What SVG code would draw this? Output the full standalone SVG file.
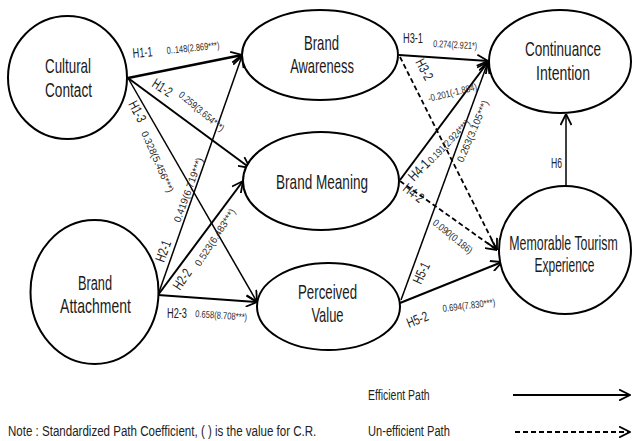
<svg xmlns="http://www.w3.org/2000/svg" width="632" height="441" viewBox="0 0 632 441">
<style>
  .node { fill: #fff; stroke: #000; stroke-width: 2; }
  .lbl { font-family: "Liberation Sans", Arial, sans-serif; font-size: 20px; fill: #1a1a1a; text-anchor: middle; }
  .h { font-family: "Liberation Sans", Arial, sans-serif; font-size: 14px; fill: #222; }
  .v { font-family: "Liberation Sans", Arial, sans-serif; font-size: 10px; fill: #2a2a2a; }
  .leg { font-family: "Liberation Sans", Arial, sans-serif; font-size: 15px; fill: #222; }
  .ar { fill: none; stroke: #000; stroke-width: 2; marker-end: url(#arr); }
  .thin { stroke-width: 1.5; }
  .da { fill: none; stroke: #000; stroke-width: 1.8; stroke-dasharray: 5 3; marker-end: url(#arr); }
</style>
<defs>
  <marker id="arr" viewBox="0 0 12 12" refX="11.5" refY="6" markerWidth="12" markerHeight="12" markerUnits="userSpaceOnUse" orient="auto">
    <path d="M0.5,0.5 L11.5,6 L0.5,11.5" fill="none" stroke="#000" stroke-width="1.8"/>
  </marker>
</defs>
<rect width="632" height="441" fill="#fff"/>

<g id="connectors">
  <line class="ar" x1="128" y1="78" x2="242" y2="55" style="stroke-width:2.4"/>
  <line class="ar" x1="128" y1="78" x2="250" y2="168"/>
  <line class="ar thin" x1="128" y1="78" x2="257" y2="302"/>
  <line class="ar thin" x1="158" y1="295" x2="242" y2="56"/>
  <line class="ar" x1="158" y1="295" x2="243" y2="181"/>
  <line class="ar" x1="158" y1="295" x2="257" y2="302"/>
  <line class="ar" x1="399" y1="55" x2="488" y2="61"/>
  <line class="da" x1="400" y1="57" x2="497" y2="250"/>
  <line class="ar" x1="400" y1="180" x2="488" y2="62"/>
  <line class="da" x1="400" y1="181" x2="497" y2="250"/>
  <line class="ar thin" x1="401" y1="300" x2="488" y2="62"/>
  <line class="ar" x1="400" y1="303" x2="502" y2="262"/>
  <line class="ar thin" x1="566" y1="187" x2="566" y2="114"/>
</g>

<g id="cultural-contact">
  <ellipse class="node" cx="67.5" cy="77.5" rx="59.5" ry="61.5"/>
  <text class="lbl" transform="translate(68,73) scale(0.668,1)">Cultural</text>
  <text class="lbl" transform="translate(68.5,97) scale(0.682,1)">Contact</text>
</g>
<g id="brand-attachment">
  <ellipse class="node" cx="94.5" cy="292" rx="64" ry="72"/>
  <text class="lbl" transform="translate(95,290) scale(0.64,1)">Brand</text>
  <text class="lbl" transform="translate(95.5,313) scale(0.70,1)">Attachment</text>
</g>
<g id="brand-awareness">
  <ellipse class="node" cx="320" cy="55" rx="78" ry="45"/>
  <text class="lbl" transform="translate(321.5,50) scale(0.656,1)">Brand</text>
  <text class="lbl" transform="translate(322,73) scale(0.647,1)">Awareness</text>
</g>
<g id="brand-meaning">
  <ellipse class="node" cx="321" cy="181" rx="78" ry="49"/>
  <text class="lbl" transform="translate(322,189) scale(0.678,1)">Brand Meaning</text>
</g>
<g id="perceived-value">
  <ellipse class="node" cx="328.5" cy="306.5" rx="71.5" ry="43.5"/>
  <text class="lbl" transform="translate(327.5,299) scale(0.664,1)">Perceived</text>
  <text class="lbl" transform="translate(327.5,322) scale(0.646,1)">Value</text>
</g>
<g id="continuance-intention">
  <ellipse class="node" cx="560" cy="61.5" rx="71" ry="51.5"/>
  <text class="lbl" transform="translate(563,56) scale(0.677,1)">Continuance</text>
  <text class="lbl" transform="translate(563,80) scale(0.704,1)">Intention</text>
</g>
<g id="memorable-tourism-experience">
  <ellipse class="node" cx="565" cy="250" rx="66" ry="64"/>
  <text class="lbl" transform="translate(563.5,250) scale(0.619,1)">Memorable Tourism</text>
  <text class="lbl" transform="translate(564.5,272) scale(0.6,1)">Experience</text>
</g>

<g id="path-labels">
  <text class="h" transform="translate(133,58) rotate(-5)" textLength="20" lengthAdjust="spacingAndGlyphs">H1-1</text>
  <text class="v" transform="translate(167,54) rotate(-6)" textLength="53" lengthAdjust="spacingAndGlyphs">0..148(2.869***)</text>
  <text class="h" transform="translate(151,86) rotate(33)" textLength="21" lengthAdjust="spacingAndGlyphs">H1-2</text>
  <text class="v" transform="translate(178,96) rotate(40)" textLength="56" lengthAdjust="spacingAndGlyphs">0.259(3.654***)</text>
  <text class="h" transform="translate(128,104) rotate(62)" textLength="22" lengthAdjust="spacingAndGlyphs">H1-3</text>
  <text class="v" transform="translate(141,133) rotate(66)" textLength="66" lengthAdjust="spacingAndGlyphs">0.328(5.456***)</text>
  <text class="h" transform="translate(164,263) rotate(-70)" textLength="22" lengthAdjust="spacingAndGlyphs">H2-1</text>
  <text class="v" transform="translate(180,223) rotate(-70)" textLength="68" lengthAdjust="spacingAndGlyphs">0.419(6.719***)</text>
  <text class="h" transform="translate(180,291) rotate(-56)" textLength="22" lengthAdjust="spacingAndGlyphs">H2-2</text>
  <text class="v" transform="translate(200,267) rotate(-57)" textLength="66" lengthAdjust="spacingAndGlyphs">0.523(6.483***)</text>
  <text class="h" x="167" y="318" textLength="20" lengthAdjust="spacingAndGlyphs">H2-3</text>
  <text class="v" transform="translate(195,317) rotate(4)" textLength="52" lengthAdjust="spacingAndGlyphs">0.658(8.708***)</text>
  <text class="h" x="403" y="43" textLength="20" lengthAdjust="spacingAndGlyphs">H3-1</text>
  <text class="v" transform="translate(433,47) rotate(3)" textLength="44" lengthAdjust="spacingAndGlyphs">0.274(2.921*)</text>
  <text class="h" transform="translate(415,62) rotate(62)" textLength="22" lengthAdjust="spacingAndGlyphs">H3-2</text>
  <text class="v" transform="translate(429,102) rotate(-14)" textLength="50" lengthAdjust="spacingAndGlyphs">-0.201(-1.884)</text>
  <text class="h" transform="translate(414,182) rotate(-46)" textLength="24" lengthAdjust="spacingAndGlyphs">H4-1</text>
  <text class="v" transform="translate(432,164) rotate(-46)" textLength="56" lengthAdjust="spacingAndGlyphs">0.191(2.924***)</text>
  <text class="v" transform="translate(463,163) rotate(-67)" textLength="66" lengthAdjust="spacingAndGlyphs">0.263(3.105***)</text>
  <text class="h" transform="translate(402,190) rotate(38)" textLength="22" lengthAdjust="spacingAndGlyphs">H4-2</text>
  <text class="v" transform="translate(432,224) rotate(39)" textLength="48" lengthAdjust="spacingAndGlyphs">0.090(0.186)</text>
  <text class="h" transform="translate(421,285) rotate(-65)" textLength="22" lengthAdjust="spacingAndGlyphs">H5-1</text>
  <text class="h" transform="translate(409,328) rotate(-22)" textLength="22" lengthAdjust="spacingAndGlyphs">H5-2</text>
  <text class="v" transform="translate(443,312) rotate(-7)" textLength="53" lengthAdjust="spacingAndGlyphs">0.694(7.830***)</text>
  <text class="h" x="551" y="168" textLength="11" lengthAdjust="spacingAndGlyphs">H6</text>
</g>

<g id="legend">
  <text class="leg" transform="translate(368,400) scale(0.70,1)">Efficient Path</text>
  <line class="ar" x1="513" y1="395" x2="630" y2="395"/>
  <text class="leg" transform="translate(368,436) scale(0.74,1)">Un-efficient Path</text>
  <line class="da" x1="515" y1="432" x2="630" y2="432"/>
  <text class="leg" transform="translate(8,436) scale(0.77,1)">Note : Standardized Path Coefficient, ( ) is the value for C.R.</text>
</g>
</svg>
